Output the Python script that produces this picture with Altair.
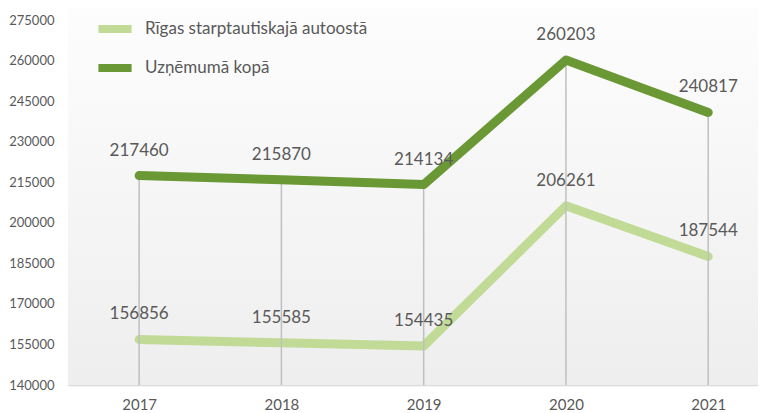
import altair as alt
import pandas as pd

years = [2017, 2018, 2019, 2020, 2021]
series_names = ["Rīgas starptautiskajā autoostā", "Uzņēmumā kopā"]
riga = [156856, 155585, 154435, 206261, 187544]
total = [217460, 215870, 214134, 260203, 240817]
y_ticks = [140000, 155000, 170000, 185000, 200000, 215000, 230000, 245000, 260000, 275000]
colors = ["#c1db97", "#6a9834"]

rows = []
for y, v in zip(years, riga):
    rows.append({"year": y, "series": series_names[0], "value": v})
for y, v in zip(years, total):
    rows.append({"year": y, "series": series_names[1], "value": v})
df = pd.DataFrame(rows)

PLOT_W = 690
PLOT_H = 377
FONT = "Lato"
GRAY = "#595959"

xscale = alt.Scale(domain=[2016.5, 2021.35], nice=False, zero=False)
yscale = alt.Scale(domain=[140000, 279440], nice=False, zero=False)
cscale = alt.Scale(domain=series_names, range=colors)

x_axis = alt.Axis(values=years, format="d", title=None, ticks=False, grid=False,
                  domain=True, domainColor="#d9d9d9", domainWidth=1.5,
                  labelFont=FONT, labelFontSize=15, labelColor=GRAY, labelPadding=12)
y_axis = alt.Axis(values=y_ticks, format="d", title=None, ticks=False, grid=False,
                  domain=False, labelFont=FONT, labelFontSize=13, labelColor=GRAY,
                  labelPadding=14)

bg = alt.Chart(alt.Data(values=[{}])).mark_rect(
    color=alt.LinearGradient(
        gradient="linear", x1=0, x2=0, y1=0, y2=1,
        stops=[alt.GradientStop(offset=0, color="#fdfdfd"),
               alt.GradientStop(offset=1, color="#eeeeee")],
    )
).encode(x=alt.value(0), x2=alt.value(PLOT_W), y=alt.value(0), y2=alt.value(PLOT_H))

base = alt.Chart(df)

def line_layer(name):
    return base.transform_filter(alt.datum.series == name).mark_line(
        strokeWidth=9, strokeCap="round", strokeJoin="round"
    ).encode(
        x=alt.X("year:Q", scale=xscale, axis=x_axis),
        y=alt.Y("value:Q", scale=yscale, axis=y_axis),
        color=alt.Color("series:N", scale=cscale, sort=series_names, legend=alt.Legend(
            title=None, orient="none", legendX=26, legendY=0,
            symbolType="stroke", symbolStrokeWidth=8, symbolSize=1100,
            labelFont=FONT, labelFontSize=17, labelColor=GRAY, labelLimit=500,
            rowPadding=2, labelOffset=9, direction="vertical",
        )),
    )

light = line_layer(series_names[0])
dark = line_layer(series_names[1])

rules = base.transform_filter(alt.datum.series == series_names[1]).mark_rule(
    color="#bfbfbf", strokeWidth=1.5
).encode(
    x=alt.X("year:Q", scale=xscale),
    y=alt.Y("value:Q", scale=yscale),
    y2=alt.datum(140000),
)

labels = base.mark_text(dy=-25, font=FONT, fontSize=17, color=GRAY).encode(
    x=alt.X("year:Q", scale=xscale),
    y=alt.Y("value:Q", scale=yscale),
    text=alt.Text("value:Q", format="d"),
)

chart = alt.layer(bg, light, rules, dark, labels).properties(
    width=PLOT_W, height=PLOT_H, padding={"left": 0, "top": 0, "right": 0, "bottom": 0}
).configure_view(stroke=None).configure(background="white")

chart.save("out.html", embed_options={"renderer": "svg", "actions": False})
